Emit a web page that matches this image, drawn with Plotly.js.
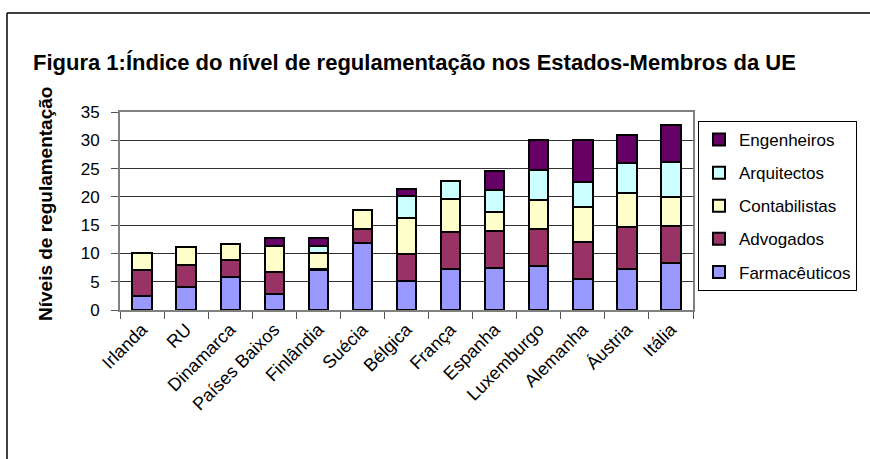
<!DOCTYPE html>
<html>
<head>
<meta charset="utf-8">
<script src="https://cdn.plot.ly/plotly-3.0.1.min.js"></script>
<style>html,body{margin:0;padding:0;background:#fff;}#chart{width:870px;height:459px;}</style>
</head>
<body>
<div id="chart"></div>
<script>
const categories = ["Irlanda","RU","Dinamarca","Países Baixos","Finlândia","Suécia","Bélgica","França","Espanha","Luxemburgo","Alemanha","Áustria","Itália"];
const farmaceuticos = [2.5, 4.0, 5.8, 2.9, 7.0, 11.8, 5.2, 7.2, 7.4, 7.7, 5.5, 7.2, 8.3];
const advogados     = [4.5, 4.0, 3.05, 3.9, 0.2, 2.5, 4.7, 6.6, 6.5, 6.6, 6.6, 7.4, 6.6];
const contabilistas = [3.1, 3.1, 2.85, 4.5, 2.8, 3.4, 6.3, 5.9, 3.5, 5.2, 6.1, 6.1, 5.1];
const arquitectos   = [0, 0, 0, 0, 1.4, 0, 3.9, 3.1, 3.85, 5.2, 4.4, 5.2, 6.2];
const engenheiros   = [0, 0, 0, 1.5, 1.4, 0, 1.3, 0, 3.35, 5.4, 7.5, 5.0, 6.5];
const yTicks = [0, 5, 10, 15, 20, 25, 30, 35];

const seriesNames = ["Farmacêuticos","Advogados","Contabilistas","Arquitectos","Engenheiros"];
const seriesValues = [farmaceuticos, advogados, contabilistas, arquitectos, engenheiros];
const seriesColors = ["#9999FF","#993366","#FFFFCC","#CCFFFF","#660066"];

const font = "Liberation Sans, Arial, sans-serif";

const traces = seriesNames.map((n, i) => ({
  type: "bar",
  name: n,
  x: categories,
  y: seriesValues[i],
  legendgroup: n,
  legendrank: seriesNames.length - i,
  marker: {color: seriesColors[i], line: {color: "#000", width: 2}},
  hoverinfo: "x+y+name"
}));

const layout = {
  width: 870, height: 459,
  paper_bgcolor: "#fff", plot_bgcolor: "#fff",
  margin: {l: 120, r: 177, t: 112, b: 149},
  barmode: "stack",
  bargap: 0.56,
  showlegend: true,
  font: {family: font, color: "#000", size: 16},
  title: {
    text: "Figura 1:Índice do nível de regulamentação nos Estados-Membros da UE",
    font: {family: font, size: 22, color: "#000", weight: "bold"},
    xref: "container", x: 33/870, xanchor: "left",
    yref: "container", y: 1 - 62/459, yanchor: "middle"
  },
  xaxis: {
    type: "category",
    tickangle: -45,
    tickson: "boundaries",
    ticks: "outside", ticklen: 7, tickcolor: "#555", tickwidth: 1,
    showline: true, linecolor: "#808080", linewidth: 2, mirror: true,
    showgrid: false,
    tickfont: {family: font, size: 18, color: "#000"}
  },
  yaxis: {
    range: [0, 35],
    tickvals: yTicks,
    ticks: "outside", ticklen: 7, tickcolor: "#555", tickwidth: 1,
    ticklabelstandoff: 8,
    showline: true, linecolor: "#808080", linewidth: 2, mirror: true,
    showgrid: true, gridcolor: "#333", gridwidth: 1,
    zeroline: false,
    tickfont: {family: font, size: 17, color: "#000"}
  },
  annotations: [{
    text: "<b>Níveis de regulamentação</b>",
    xref: "paper", yref: "paper",
    x: (45-120)/573, y: (310-204)/198,
    xanchor: "center", yanchor: "middle",
    textangle: -90, showarrow: false,
    font: {family: font, size: 19, color: "#000"}
  }],
  legend: {
    x: (698-120)/573, xanchor: "left",
    y: (310-121)/198, yanchor: "top",
    bordercolor: "#000", borderwidth: 1,
    bgcolor: "#fff",
    traceorder: "grouped",
    tracegroupgap: 8,
    font: {family: font, size: 17, color: "#000"}
  },
  shapes: [
    {type: "line", xref: "paper", yref: "paper", x0: (7-120)/573, x1: (880-120)/573, y0: (310-13)/198, y1: (310-13)/198, line: {color: "#000", width: 1.5}},
    {type: "line", xref: "paper", yref: "paper", x0: (7-120)/573, x1: (7-120)/573, y0: (310-13)/198, y1: (310-470)/198, line: {color: "#000", width: 1.5}}
  ]
};

Plotly.newPlot("chart", traces, layout, {displayModeBar: false, staticPlot: true});
</script>
</body>
</html>
